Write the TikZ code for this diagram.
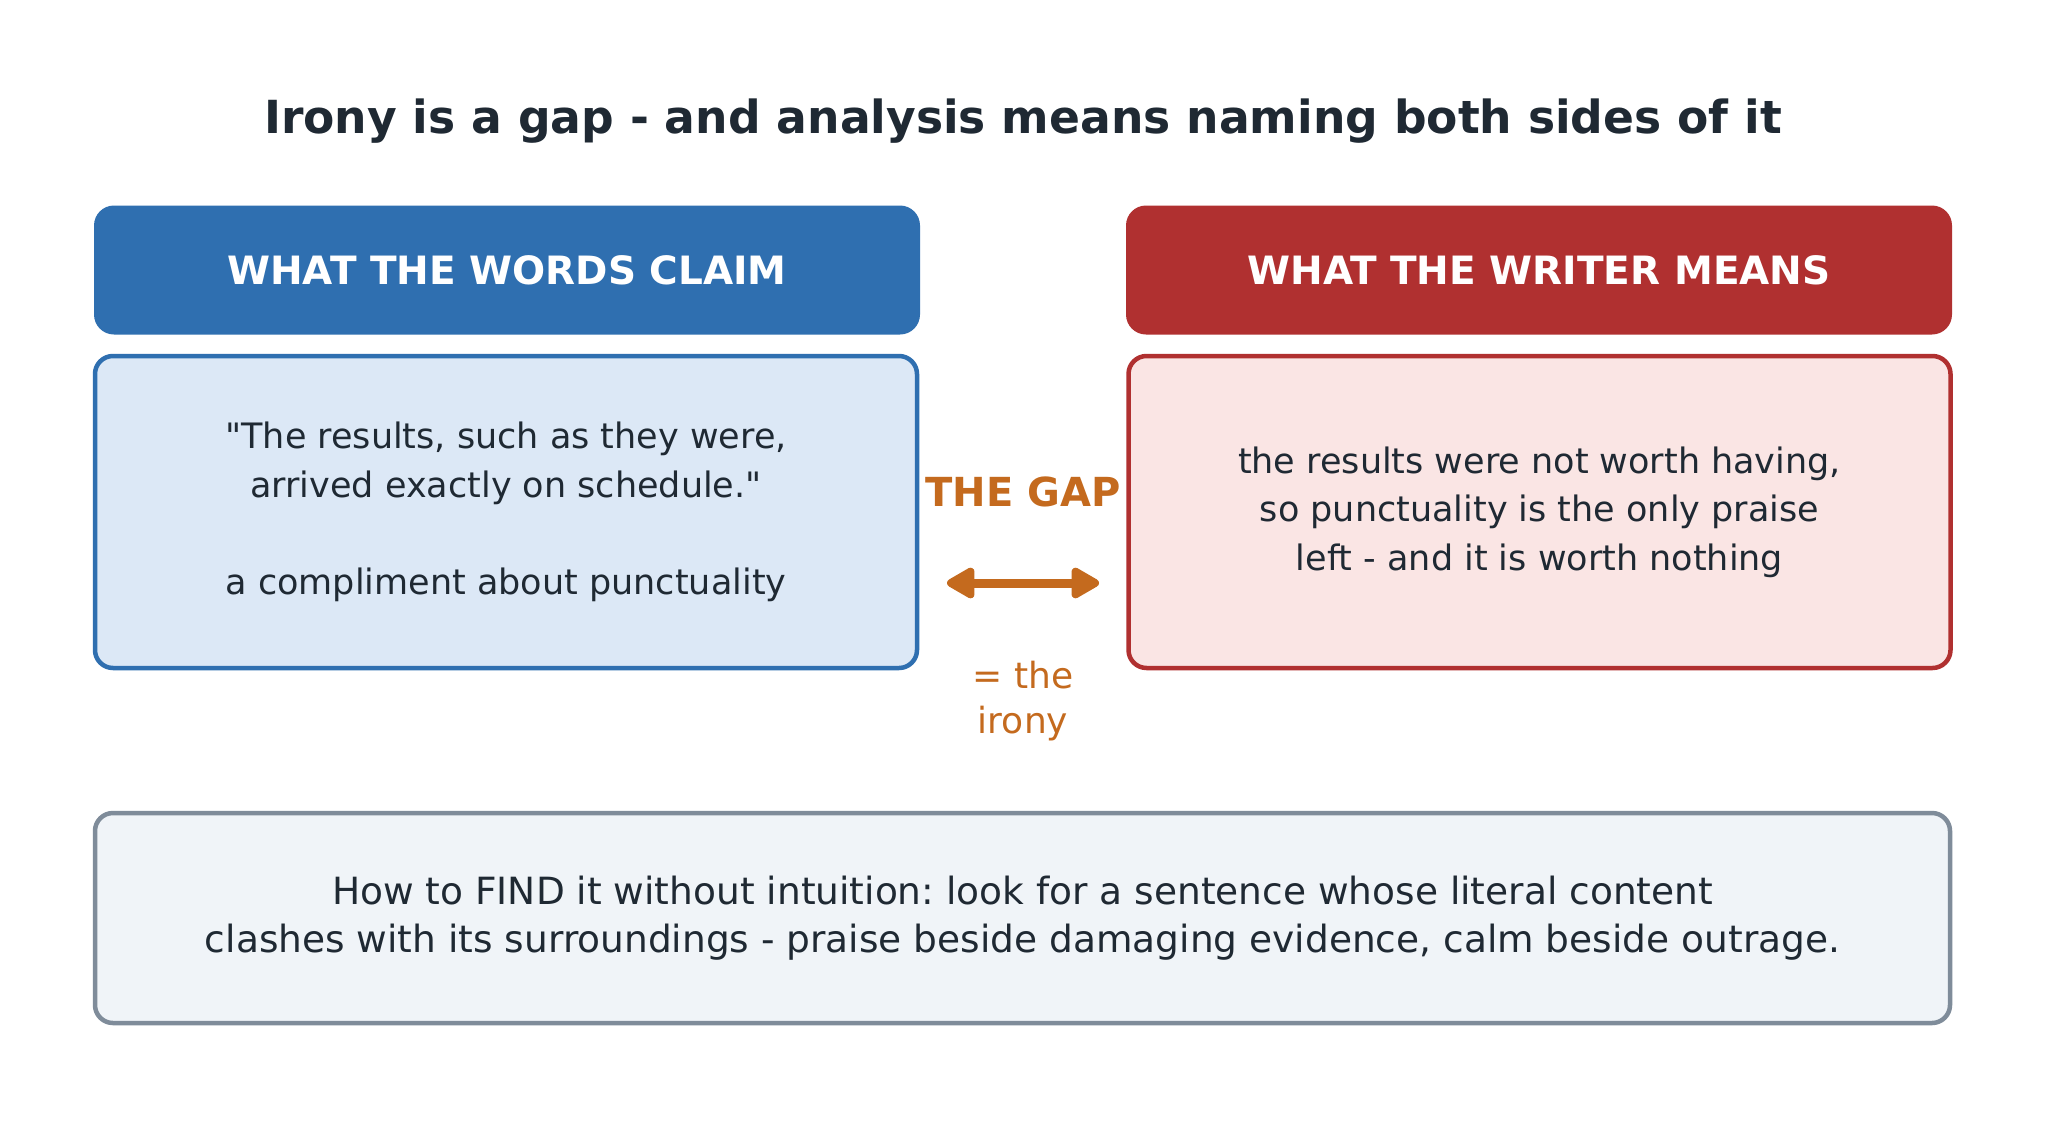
\documentclass[tikz,border=0pt]{standalone}
\usepackage{fontspec}
\setmainfont{DejaVu Sans}[Ligatures=TeXOff]
\usetikzlibrary{arrows.meta}
\definecolor{ink}{HTML}{1F2933}
\definecolor{claimblue}{HTML}{2F6FB0}
\definecolor{claimfill}{HTML}{DCE8F6}
\definecolor{meanred}{HTML}{B03030}
\definecolor{meanfill}{HTML}{FAE5E4}
\definecolor{notegray}{HTML}{7F8C9A}
\definecolor{notefill}{HTML}{F0F4F8}
\definecolor{gaporange}{HTML}{C46A1E}
\frenchspacing
\begin{document}
\begin{tikzpicture}[x=1pt,y=-1pt]
	\tikzstyle{header} = [rounded corners=20pt,inner sep=0pt,minimum width=826pt,minimum height=129pt,text=white,font=\fontsize{39}{47}\selectfont\bfseries]
	\tikzstyle{panel} = [draw,line width=4.5pt,rounded corners=18pt,inner sep=0pt,minimum width=822pt,minimum height=312pt,text=ink,align=center,font=\fontsize{35}{48.5}\selectfont]
	\fill[white] (0,0) rectangle (2046,1120);
	\useasboundingbox (0,0) rectangle (2046,1120);
	% title
	\node[text=ink,font=\fontsize{45.6}{55}\selectfont\bfseries] (title) at (1023,121) {Irony is a gap - and analysis means naming both sides of it};
	% headers
	\node[header,fill=claimblue] (claimHead) at (507,270) {WHAT THE WORDS CLAIM};
	\node[header,fill=meanred] (meanHead) at (1539,270) {WHAT THE WRITER MEANS};
	% panels
	\node[panel,draw=claimblue,fill=claimfill] (claim) at (506,512) {"The results, such as they were,\\arrived exactly on schedule."\\[48.5pt]a compliment about punctuality};
	\node[panel,draw=meanred,fill=meanfill] (mean) at (1539.5,512) {the results were not worth having,\\so punctuality is the only praise\\left - and it is worth nothing};
	% the gap
	\node[text=gaporange,font=\fontsize{40}{48}\selectfont\bfseries] (gap) at (1023,492) {THE GAP};
	\coordinate (gapL) at (947,583);
	\coordinate (gapR) at (1099,583);
	\draw[gaporange,line width=9pt,{Triangle[length=32pt,width=34pt,round]}-{Triangle[length=32pt,width=34pt,round]}] (gapL) -- (gapR);
	\node[text=gaporange,align=center,font=\fontsize{36}{45}\selectfont] (irony) at (1023,701) {= the\\irony};
	% how to find it
	\node[panel,draw=notegray,fill=notefill,minimum width=1855pt,minimum height=210pt,font=\fontsize{37.5}{48.5}\selectfont] (note) at (1022.5,918) {How to FIND it without intuition: look for a sentence whose literal content\\clashes with its surroundings - praise beside damaging evidence, calm beside outrage.};
\end{tikzpicture}
\end{document}
